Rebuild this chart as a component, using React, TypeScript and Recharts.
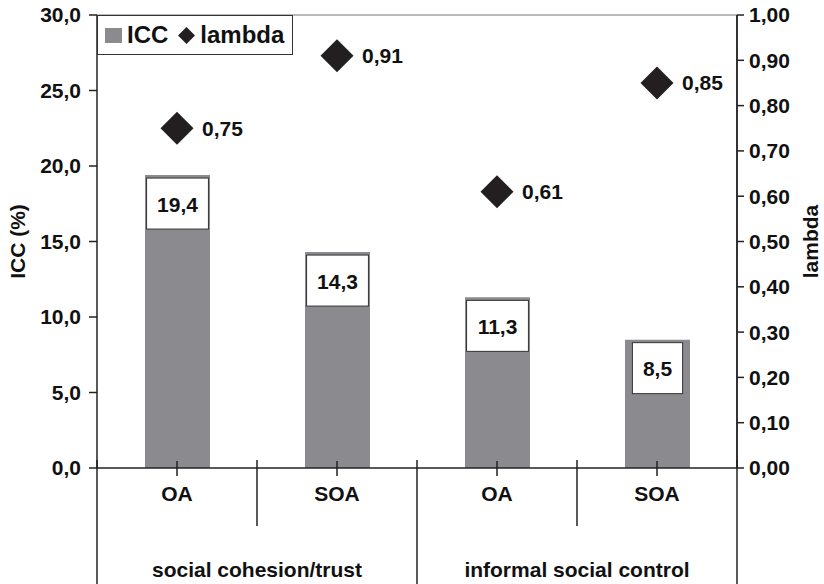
import React from 'react';
import { ComposedChart, Bar, Line, XAxis, YAxis, LabelList, ReferenceLine } from 'recharts';

const categories = ['OA', 'SOA', 'OA', 'SOA'];
const groups = ['social cohesion/trust', 'social cohesion/trust', 'informal social control', 'informal social control'];
const iccValues = [19.4, 14.3, 11.3, 8.5];
const lambdaValues = [0.75, 0.91, 0.61, 0.85];
const iccTicks = [0, 5, 10, 15, 20, 25, 30];
const lambdaTicks = [0, 0.1, 0.2, 0.3, 0.4, 0.5, 0.6, 0.7, 0.8, 0.9, 1];
const seriesNames = ['ICC', 'lambda'];

const data = categories.map((cat, i) => ({
  cat,
  group: groups[i],
  icc: iccValues[i],
  lambda: lambdaValues[i],
}));

const FONT = '"Liberation Sans", Arial, Helvetica, sans-serif';
const FS = 21;
const INK = '#111';
const LINE = '#222';
const BAR = '#8b8b8f';
const DIAMOND = '#231f20';

const W = 824;
const H = 584;
const LEFT_W = 97;
const RIGHT_W = 87;

const fmt1 = (v: number) => v.toFixed(1).replace('.', ',');
const fmt2 = (v: number) => v.toFixed(2).replace('.', ',');

// rough bold-Arial width of numeric labels
const textWidth = (s: string, size: number) =>
  s.split('').reduce((w, ch) => w + (ch === ',' ? 0.278 : 0.556), 0) * size;

function CatTick(props: any) {
  const { x, y, payload, index, width, visibleTicksCount } = props;
  const n = visibleTicksCount || categories.length;
  const band = (width || W - LEFT_W - RIGHT_W) / n;
  const i = payload?.index ?? index;
  const left = x - band / 2;
  const groupStart = i === 0 || groups[i] !== groups[i - 1];
  const isLast = i === n - 1;
  const groupSize = groups.filter((g) => g === groups[i]).length;
  return (
    <g>
      <line x1={x} x2={x} y1={y - 7} y2={y + 8} stroke={LINE} strokeWidth={1.5} />
      <line x1={left} x2={left} y1={y - 8} y2={groupStart ? y + 120 : y + 58} stroke={LINE} strokeWidth={1.5} />
      {isLast && (
        <line x1={left + band} x2={left + band} y1={y - 8} y2={y + 120} stroke={LINE} strokeWidth={1.5} />
      )}
      <text x={x} y={y + 33} textAnchor="middle" fill={INK} fontSize={FS} fontWeight={700} fontFamily={FONT}>
        {payload.value}
      </text>
      {groupStart && (
        <text
          x={left + (band * groupSize) / 2}
          y={y + 109}
          textAnchor="middle"
          fill={INK}
          fontSize={FS}
          fontWeight={700}
          fontFamily={FONT}
        >
          {groups[i]}
        </text>
      )}
    </g>
  );
}

function BoxLabel(props: any) {
  const { x, y, width, value } = props;
  const text = fmt1(Number(value));
  const bw = textWidth(text, FS) + 21;
  const cx = x + width / 2;
  const top = y + 3;
  return (
    <g>
      <rect x={cx - bw / 2} y={top} width={bw} height={51} fill="#fff" stroke="#333" strokeWidth={1} />
      <text
        x={cx}
        y={top + 26}
        textAnchor="middle"
        dominantBaseline="central"
        fill={INK}
        fontSize={FS}
        fontWeight={700}
        fontFamily={FONT}
      >
        {text}
      </text>
    </g>
  );
}

function DiamondDot(props: any) {
  const { cx, cy, index } = props;
  const r = 16.5;
  return (
    <path
      key={`d-${index}`}
      d={`M${cx},${cy - r} L${cx + r},${cy} L${cx},${cy + r} L${cx - r},${cy} Z`}
      fill={DIAMOND}
    />
  );
}

function DiamondLabel(props: any) {
  const { x, y, value } = props;
  return (
    <text
      x={x + 25}
      y={y}
      dominantBaseline="central"
      fill={INK}
      fontSize={FS}
      fontWeight={700}
      fontFamily={FONT}
    >
      {fmt2(Number(value))}
    </text>
  );
}

function LegendBox() {
  return (
    <div
      style={{
        position: 'absolute',
        left: LEFT_W,
        top: 15,
        width: 196,
        height: 40,
        boxSizing: 'border-box',
        border: '1px solid #333',
        background: '#fff',
        display: 'flex',
        alignItems: 'center',
        fontFamily: FONT,
        fontWeight: 700,
        fontSize: 24,
        color: INK,
        whiteSpace: 'nowrap',
      }}
    >
      <span style={{ width: 17, height: 15, background: BAR, marginLeft: 7, display: 'inline-block' }} />
      <span style={{ marginLeft: 5 }}>{seriesNames[0]}</span>
      <svg width={17} height={17} style={{ marginLeft: 10 }}>
        <path d="M8.5,0 L17,8.5 L8.5,17 L0,8.5 Z" fill={DIAMOND} />
      </svg>
      <span style={{ marginLeft: 5 }}>{seriesNames[1]}</span>
    </div>
  );
}

export default function App() {
  return (
    <div style={{ position: 'absolute', left: 0, top: 0, width: W, height: H, background: '#fff' }}>
      <ComposedChart width={W} height={H} data={data} margin={{ top: 15, right: 0, bottom: 0, left: 0 }}>
        <XAxis
          dataKey="cat"
          height={H - 468}
          interval={0}
          tickSize={0}
          tickMargin={0}
          tickLine={false}
          axisLine={{ stroke: LINE, strokeWidth: 1.5 }}
          tick={<CatTick />}
        />
        <YAxis
          yAxisId="left"
          domain={[0, 30]}
          ticks={iccTicks}
          interval={0}
          width={LEFT_W}
          tickSize={8}
          tickMargin={8}
          tickFormatter={fmt1}
          axisLine={{ stroke: LINE, strokeWidth: 1.5 }}
          tickLine={{ stroke: LINE, strokeWidth: 1.5 }}
          tick={{ fill: INK, fontSize: FS, fontWeight: 700, fontFamily: FONT }}
          label={{
            value: 'ICC (%)',
            angle: -90,
            position: 'insideLeft',
            offset: 18,
            style: { textAnchor: 'middle', fill: INK, fontSize: FS, fontWeight: 700, fontFamily: FONT },
          }}
        />
        <YAxis
          yAxisId="right"
          orientation="right"
          domain={[0, 1]}
          ticks={lambdaTicks}
          interval={0}
          width={RIGHT_W}
          tickSize={7}
          tickMargin={5}
          tickFormatter={fmt2}
          axisLine={{ stroke: '#333', strokeWidth: 2 }}
          tickLine={{ stroke: LINE, strokeWidth: 1.5 }}
          tick={{ fill: INK, fontSize: FS, fontWeight: 700, fontFamily: FONT }}
          label={{
            value: 'lambda',
            angle: -90,
            position: 'insideRight',
            offset: 13,
            style: { textAnchor: 'middle', fill: INK, fontSize: FS, fontWeight: 700, fontFamily: FONT },
          }}
        />
        <ReferenceLine yAxisId="left" y={30} stroke="#777" strokeWidth={1} />
        <Bar yAxisId="left" dataKey="icc" name={seriesNames[0]} fill={BAR} barSize={65} isAnimationActive={false}>
          <LabelList dataKey="icc" content={<BoxLabel />} />
        </Bar>
        <Line
          yAxisId="right"
          dataKey="lambda"
          name={seriesNames[1]}
          stroke="none"
          dot={(p: any) => <DiamondDot key={`dot-${p.index}`} {...p} />}
          activeDot={false}
          isAnimationActive={false}
        >
          <LabelList dataKey="lambda" content={<DiamondLabel />} />
        </Line>
      </ComposedChart>
      <LegendBox />
    </div>
  );
}
